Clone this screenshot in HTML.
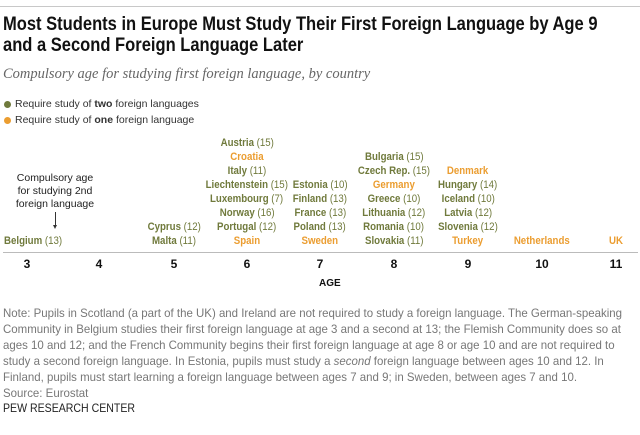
<!DOCTYPE html>
<html><head><meta charset="utf-8"><style>
body{margin:0;width:640px;height:435px;background:#fff;position:relative;overflow:hidden;font-family:"Liberation Sans",sans-serif;}
.a{position:absolute;white-space:nowrap;}
.s{display:inline-block;transform-origin:0 0;}
.c{position:absolute;width:140px;text-align:center;font-size:11px;line-height:14px;white-space:nowrap;font-weight:bold;}
.c>i{font-style:normal;display:inline-block;transform:scaleX(0.88);}
.c span{font-weight:normal;}
.g{color:#707a3c}.o{color:#eb9d30}
.t{position:absolute;width:40px;text-align:center;font-weight:bold;font-size:12px;top:257px;color:#111}
.n{display:block;transform:scaleX(0.955);transform-origin:0 0;}
</style></head><body>
<div class="a" style="left:0;top:6px;width:640px;height:1px;background:#c8c8c8"></div>
<div class="a" style="left:3px;top:14px;font-size:19px;font-weight:bold;line-height:21px;color:#111"><span class="s" style="transform:scaleX(0.87)">Most Students in Europe Must Study Their First Foreign Language by Age 9<br>and a Second Foreign Language Later</span></div>
<div class="a" style="left:3px;top:66px;font-family:'Liberation Serif',serif;font-style:italic;font-size:14.5px;color:#666">Compulsory age for studying first foreign language, by country</div>
<div class="a" style="left:4px;top:101px;width:7px;height:7px;border-radius:50%;background:#707a3c"></div>
<div class="a" style="left:15px;top:98px;font-size:10.5px;color:#333">Require study of <b>two</b> foreign languages</div>
<div class="a" style="left:4px;top:117px;width:7px;height:7px;border-radius:50%;background:#eb9d30"></div>
<div class="a" style="left:15px;top:114px;font-size:10.5px;color:#333">Require study of <b>one</b> foreign language</div>
<div class="a" style="left:15px;top:172px;width:80px;text-align:center;font-size:10.5px;line-height:13px;color:#222">Compulsory age<br>for studying 2nd<br>foreign language</div>
<div class="a" style="left:55px;top:212px;width:1px;height:15px;background:#333"></div>
<div class="a" style="left:53px;top:225px;width:0;height:0;border-left:2.5px solid transparent;border-right:2.5px solid transparent;border-top:4px solid #333"></div>

<div class="a g" style="left:4px;top:234px;font-size:11px;line-height:14px;font-weight:bold"><span class="s" style="transform:scaleX(0.88)">Belgium <span style="font-weight:normal">(13)</span></span></div>

<div class="c g" style="left:104px;top:220px"><i>Cyprus <span>(12)</span></i></div>
<div class="c g" style="left:104px;top:234px"><i>Malta <span>(11)</span></i></div>

<div class="c g" style="left:177px;top:136px"><i>Austria <span>(15)</span></i></div>
<div class="c o" style="left:177px;top:150px"><i>Croatia</i></div>
<div class="c g" style="left:177px;top:164px"><i>Italy <span>(11)</span></i></div>
<div class="c g" style="left:177px;top:178px"><i>Liechtenstein <span>(15)</span></i></div>
<div class="c g" style="left:177px;top:192px"><i>Luxembourg <span>(7)</span></i></div>
<div class="c g" style="left:177px;top:206px"><i>Norway <span>(16)</span></i></div>
<div class="c g" style="left:177px;top:220px"><i>Portugal <span>(12)</span></i></div>
<div class="c o" style="left:177px;top:234px"><i>Spain</i></div>

<div class="c g" style="left:250px;top:178px"><i>Estonia <span>(10)</span></i></div>
<div class="c g" style="left:250px;top:192px"><i>Finland <span>(13)</span></i></div>
<div class="c g" style="left:250px;top:206px"><i>France <span>(13)</span></i></div>
<div class="c g" style="left:250px;top:220px"><i>Poland <span>(13)</span></i></div>
<div class="c o" style="left:250px;top:234px"><i>Sweden</i></div>

<div class="c g" style="left:324px;top:150px"><i>Bulgaria <span>(15)</span></i></div>
<div class="c g" style="left:324px;top:164px"><i>Czech Rep. <span>(15)</span></i></div>
<div class="c o" style="left:324px;top:178px"><i>Germany</i></div>
<div class="c g" style="left:324px;top:192px"><i>Greece <span>(10)</span></i></div>
<div class="c g" style="left:324px;top:206px"><i>Lithuania <span>(12)</span></i></div>
<div class="c g" style="left:324px;top:220px"><i>Romania <span>(10)</span></i></div>
<div class="c g" style="left:324px;top:234px"><i>Slovakia <span>(11)</span></i></div>

<div class="c o" style="left:398px;top:164px"><i>Denmark</i></div>
<div class="c g" style="left:398px;top:178px"><i>Hungary <span>(14)</span></i></div>
<div class="c g" style="left:398px;top:192px"><i>Iceland <span>(10)</span></i></div>
<div class="c g" style="left:398px;top:206px"><i>Latvia <span>(12)</span></i></div>
<div class="c g" style="left:398px;top:220px"><i>Slovenia <span>(12)</span></i></div>
<div class="c o" style="left:398px;top:234px"><i>Turkey</i></div>

<div class="c o" style="left:472px;top:234px"><i>Netherlands</i></div>
<div class="c o" style="left:546px;top:234px"><i>UK</i></div>

<div class="a" style="left:3px;top:252px;width:635px;height:1px;background:#bbb"></div>
<div class="t" style="left:7px">3</div><div class="t" style="left:79px">4</div><div class="t" style="left:154px">5</div><div class="t" style="left:227px">6</div><div class="t" style="left:300px">7</div><div class="t" style="left:374px">8</div><div class="t" style="left:448px">9</div><div class="t" style="left:522px">10</div><div class="t" style="left:596px">11</div>
<div class="a" style="top:278px;font-size:10px;font-weight:bold;color:#111;left:319px">AGE</div>

<div class="a" style="left:3px;top:305px;font-size:12px;line-height:16px;color:#777">
<span class="n">Note: Pupils in Scotland (a part of the UK) and Ireland are not required to study a foreign language. The German-speaking</span>
<span class="n">Community in Belgium studies their first foreign language at age 3 and a second at 13; the Flemish Community does so at</span>
<span class="n">ages 10 and 12; and the French Community begins their first foreign language at age 8 or age 10 and are not required to</span>
<span class="n">study a second foreign language. In Estonia, pupils must study a <i>second</i> foreign language between ages 10 and 12. In</span>
<span class="n">Finland, pupils must start learning a foreign language between ages 7 and 9; in Sweden, between ages 7 and 10.</span>
<span class="n">Source: Eurostat</span>
</div>
<div class="a" style="left:3px;top:401px;font-size:12px;color:#222"><span class="s" style="transform:scaleX(0.88)">PEW RESEARCH CENTER</span></div>
</body></html>
